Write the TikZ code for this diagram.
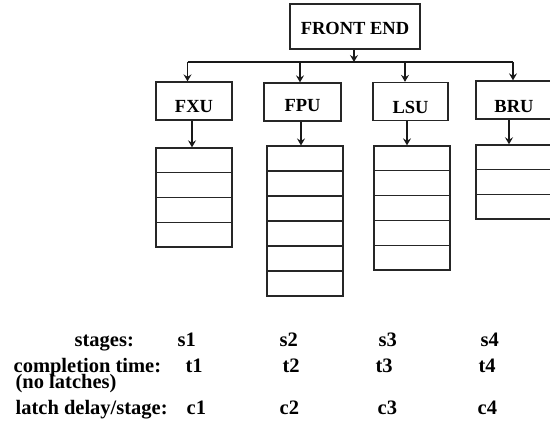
\documentclass[tikz,border=0pt]{standalone}
\usepackage{fontspec}
\setmainfont{Liberation Serif}
\usetikzlibrary{arrows.meta}

\begin{document}
\begin{tikzpicture}[x=1pt, y=-1pt,
  line width=1.3pt,
  unitbox/.style={draw=black!85, inner sep=0pt, minimum width=76pt,
    text height=31pt, text depth=7pt,
    font=\fontsize{18.5}{20}\selectfont\bfseries},
  cell/.style={draw=black!85, inner sep=0pt, minimum width=76pt, minimum height=24.8pt},
  arr/.style={draw=black!90, -{Stealth[length=7pt,width=8pt,inset=2.5pt]}},
  lbl/.style={anchor=base west, inner sep=0pt, font=\fontsize{20.5}{22}\selectfont\bfseries}
]
\useasboundingbox (0,0) rectangle (550,425);
\clip (0,0) rectangle (550,425);
\fill[white] (0,0) rectangle (550,425);

% front end and the four execution units
\node[unitbox, minimum width=130pt, text height=31pt, text depth=14pt] (fe) at (355,26.5) {FRONT END};
\node[unitbox] (fxu) at (194,101)   {FXU};
\node[unitbox, minimum width=77pt, text height=29pt, text depth=9pt] (fpu) at (302.5,102) {FPU};
\node[unitbox, minimum width=75pt] (lsu) at (410.5,101.5) {LSU};
\node[unitbox, text height=32pt, text depth=6pt] (bru) at (514,100)   {BRU};

% dispatch bus
\coordinate (feb) at (354,62);
\coordinate (b1) at (187.5,62);
\coordinate (b2) at (300,62);
\coordinate (b3) at (405,62);
\coordinate (b4) at (513,62);
\draw[arr] (fe.south -| feb) -- (feb);
\draw[draw=black!90] (b1) -- (b4);
\draw[arr] (b1) -- (b1 |- fxu.north);
\draw[arr] (b2) -- (b2 |- fpu.north);
\draw[arr] (b3) -- (b3 |- lsu.north);
\draw[arr] (b4) -- (b4 |- bru.north);

% pipeline stages of each unit
\foreach \i in {1,...,4} \node[cell] (fxs-\i) at (194,{148+(\i-0.5)*24.75}) {};
\foreach \i in {1,...,6} \node[cell] (fps-\i) at (305,{146+(\i-0.5)*25}) {};
\foreach \i in {1,...,5} \node[cell] (lss-\i) at (412,{146+(\i-0.5)*24.8}) {};
\foreach \i in {1,...,3} \node[cell] (brs-\i) at (514,{145+(\i-0.5)*24.7}) {};

\draw[arr] ([xshift=-2pt]fxu.south) -- ([xshift=-2pt]fxu.south |- fxs-1.north);
\draw[arr] ([xshift=-1.5pt]fpu.south) -- ([xshift=-1.5pt]fpu.south |- fps-1.north);
\draw[arr] ([xshift=-3.5pt]lsu.south) -- ([xshift=-3.5pt]lsu.south |- lss-1.north);
\draw[arr] ([xshift=-5pt]bru.south) -- ([xshift=-5pt]bru.south |- brs-1.north);

% timing table
\node[lbl] (hs) at (74,347) {stages:};
\node[lbl] (s1) at (177,347) {s1};
\node[lbl] (s2) at (279,347) {s2};
\node[lbl] (s3) at (378,347) {s3};
\node[lbl] (s4) at (480,347) {s4};

\node[lbl] (ht) at (13,373) {completion time:};
\node[lbl] (ht2) at (15,389) {(no latches)};
\node[lbl] (t1) at (185,373) {t1};
\node[lbl] (t2) at (282,373) {t2};
\node[lbl] (t3) at (375,373) {t3};
\node[lbl] (t4) at (478,373) {t4};

\node[lbl] (hc) at (15,414) {latch delay/stage:};
\node[lbl] (c1) at (186,414) {c1};
\node[lbl] (c2) at (279,414) {c2};
\node[lbl] (c3) at (377,414) {c3};
\node[lbl] (c4) at (477,414) {c4};
\end{tikzpicture}
\end{document}
